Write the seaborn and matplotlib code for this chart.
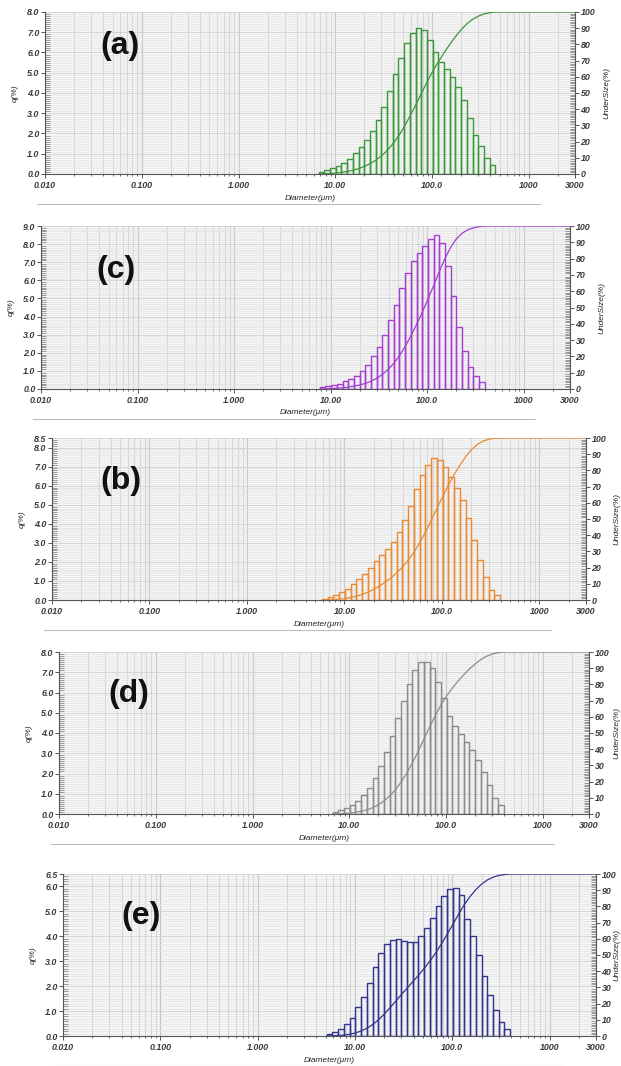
"""
Particle size distributions (q% histogram + cumulative undersize) - 5 panels
"""
import numpy as np
import pandas as pd
import matplotlib
matplotlib.use('Agg')
import matplotlib.pyplot as plt
import seaborn as sns
from matplotlib.lines import Line2D
from matplotlib.ticker import FixedLocator, MultipleLocator, NullFormatter, FixedFormatter

# analyser channel edges (um) in the occupied range
channels = [5.122, 5.867, 6.720, 7.697, 8.816, 10.097, 11.565, 13.246, 15.172,
            17.377, 19.904, 22.797, 26.111, 29.907, 34.255, 39.234, 44.938,
            51.471, 58.953, 67.523, 77.339, 88.583, 101.460, 116.210, 133.103,
            152.453, 174.616, 200.000, 229.075, 262.376, 300.518, 344.206,
            394.244, 451.556, 517.200]

# q(%) per channel
q_a = [0.12, 0.20, 0.28, 0.41, 0.56, 0.74, 1.02, 1.33, 1.70, 2.12, 2.67, 3.33,
       4.10, 4.92, 5.71, 6.45, 6.98, 7.22, 7.11, 6.62, 6.04, 5.55, 5.17, 4.81,
       4.31, 3.65, 2.78, 1.93, 1.38, 0.77, 0.44]
q_c = [0.09, 0.15, 0.20, 0.29, 0.42, 0.55, 0.74, 0.97, 1.34, 1.80, 2.32, 2.98,
       3.79, 4.65, 5.57, 6.40, 7.04, 7.50, 7.90, 8.29, 8.51, 8.05, 6.80, 5.11,
       3.42, 2.08, 1.20, 0.72, 0.40]
q_b = [0.07, 0.17, 0.28, 0.42, 0.60, 0.82, 1.08, 1.38, 1.70, 2.03, 2.36, 2.68,
       3.05, 3.55, 4.18, 4.95, 5.80, 6.55, 7.10, 7.45, 7.36, 6.96, 6.45, 5.87,
       5.26, 4.30, 3.16, 2.08, 1.19, 0.54, 0.24]
q_d = [0.10, 0.18, 0.28, 0.43, 0.64, 0.94, 1.30, 1.79, 2.39, 3.08, 3.85, 4.76,
       5.58, 6.40, 7.11, 7.49, 7.52, 7.19, 6.53, 5.71, 4.84, 4.36, 3.93, 3.57,
       3.16, 2.67, 2.06, 1.43, 0.77, 0.44]
q_e = [0.09, 0.17, 0.28, 0.47, 0.74, 1.18, 1.55, 2.14, 2.75, 3.32, 3.68, 3.85,
       3.88, 3.82, 3.77, 3.78, 4.02, 4.35, 4.75, 5.21, 5.63, 5.88, 5.92, 5.66,
       4.68, 4.00, 3.24, 2.41, 1.63, 1.03, 0.56, 0.29]

# first occupied channel of every sample
start_a, start_c, start_b, start_d, start_e = 6.720, 7.697, 5.867, 6.720, 5.122

panel_labels = ['(a)', '(c)', '(b)', '(d)', '(e)']
ymax_list = [8.0, 9.0, 8.5, 8.0, 6.5]
colors = ['#3a973a', '#a43ed2', '#ea8a30', '#8c8c8c', '#32338c']
x_ticks = [0.01, 0.1, 1, 10, 100, 1000, 3000]
x_ticklabels = ['0.010', '0.100', '1.000', '10.00', '100.0', '1000', '3000']
under_ticks = list(range(0, 101, 10))

W, H = 621, 1066
# axes boxes in pixels: left, right, top, bottom
boxes = [(45, 575, 12, 174), (41, 570, 226, 389), (52, 586, 438, 600),
         (59, 589, 652, 814), (63, 596, 874, 1036)]
letter_pos = [(120, 46), (116, 270), (121, 481), (129, 694), (141, 916)]

sns.set_theme(style='white')
plt.rcParams['font.family'] = ['Liberation Sans', 'DejaVu Sans']

fig = plt.figure(figsize=(W / 100, H / 100), dpi=100)
fig.patch.set_facecolor('white')


def fx(x): return x / W
def fy(y): return 1 - y / H


tick_font = dict(fontsize=6.4, fontstyle='italic', fontweight='bold', color='#3a3a3a')
lab_font = dict(fontsize=6, fontstyle='italic', color='#222222')

data = [(q_a, start_a), (q_c, start_c), (q_b, start_b), (q_d, start_d), (q_e, start_e)]

for i, ((q, start), (L, R, T, B)) in enumerate(zip(data, boxes)):
    col = colors[i]
    ymax = ymax_list[i]
    i0 = channels.index(start)
    edges = np.array(channels[i0:i0 + len(q) + 1])
    centers = np.sqrt(edges[:-1] * edges[1:])
    df = pd.DataFrame({'d': centers, 'q': q})
    undersize = np.concatenate([[0], np.cumsum(q) / np.sum(q) * 100, [100]])
    cum = pd.DataFrame({'d': np.concatenate([edges, [x_ticks[-1]]]), 'u': undersize})

    ax = fig.add_axes([fx(L), fy(B), fx(R - L), (B - T) / H])
    ax.set_facecolor('#f5f5f5')
    sns.histplot(data=df, x='d', weights='q', bins=list(np.log10(edges)),
                 log_scale=True, element='bars', fill=False, color=col,
                 linewidth=1.0, ax=ax)
    ax.set_xlim(0.01, 3000)
    ax.set_ylim(0, ymax)

    # grid
    ax.xaxis.set_major_locator(FixedLocator(x_ticks))
    ax.xaxis.set_major_formatter(FixedFormatter(x_ticklabels))
    minors = [m * 10.0 ** e for e in range(-2, 4) for m in range(2, 10)
              if 0.01 < m * 10.0 ** e < 3000]
    ax.xaxis.set_minor_locator(FixedLocator(minors))
    ax.xaxis.set_minor_formatter(NullFormatter())
    yt = list(np.arange(0, int(ymax) + 1, 1.0))
    if ymax not in yt:
        yt.append(ymax)
    ax.yaxis.set_major_locator(FixedLocator(yt))
    ax.yaxis.set_major_formatter(FixedFormatter([f'{v:.1f}' for v in yt]))
    ax.yaxis.set_minor_locator(MultipleLocator(0.1))
    ax.grid(which='minor', axis='y', color='#e4e4e4', lw=0.5)
    ax.grid(which='major', axis='y', color='#d4d4d4', lw=0.7)
    ax.grid(which='minor', axis='x', color='#d0d0d0', lw=0.7)
    ax.grid(which='major', axis='x', color='#bdbdbd', lw=0.8)
    ax.set_axisbelow(True)

    ax.tick_params(axis='y', which='major', direction='out', length=3, width=0.7,
                   color='#555555', pad=1, left=True)
    ax.tick_params(axis='y', which='minor', direction='in', length=3.5, width=0.6,
                   color='#8a8a8a', left=True)
    ax.tick_params(axis='x', which='major', direction='out', length=3, width=0.7,
                   color='#555555', pad=2, bottom=True)
    ax.tick_params(axis='x', which='minor', direction='out', length=1.5, width=0.7,
                   color='#666666', bottom=True)
    for t in ax.get_xticklabels() + ax.get_yticklabels():
        t.set(**tick_font)
    ax.set_xlabel('')
    ax.set_ylabel('')
    ax.spines['top'].set_visible(False)
    ax.spines['right'].set_visible(False)
    for s in ['left', 'bottom']:
        ax.spines[s].set_color('#555555')
        ax.spines[s].set_linewidth(0.8)

    # cumulative undersize on the right axis
    ax2 = ax.twinx()
    sns.lineplot(data=cum, x='d', y='u', color=col, lw=0.9, ax=ax2, sort=True)
    ax2.set_xlim(0.01, 3000)
    ax2.set_ylim(0, 100)
    ax2.yaxis.set_major_locator(FixedLocator(under_ticks))
    ax2.yaxis.set_major_formatter(FixedFormatter([str(v) for v in under_ticks]))
    ax2.yaxis.set_minor_locator(MultipleLocator(1))
    ax2.tick_params(axis='y', which='major', direction='out', length=3, width=0.7,
                    color='#555555', pad=1, right=True)
    ax2.tick_params(axis='y', which='minor', direction='in', length=3.5, width=0.6,
                    color='#8a8a8a', right=True)
    for t in ax2.get_yticklabels():
        t.set(**tick_font)
    ax2.set_xlabel('')
    ax2.set_ylabel('')
    for s in ['top', 'left', 'bottom']:
        ax2.spines[s].set_visible(False)
    ax2.spines['right'].set_color('#555555')
    ax2.spines['right'].set_linewidth(0.8)

    # axis titles
    fig.text(fx(L - 30), fy((T + B) / 2), 'q(%)', rotation=90, ha='center',
             va='center', **lab_font)
    fig.text(fx(min(R + 32, 617)), fy((T + B) / 2), 'UnderSize(%)', rotation=90,
             ha='center', va='center', **lab_font)
    fig.text(fx((L + R) / 2), fy(B + 24), 'Diameter(μm)', ha='center',
             va='center', **lab_font)
    fig.add_artist(Line2D([fx(L - 8), fx(R - 35)], [fy(B + 30), fy(B + 30)],
                          color='#bdbdbd', lw=0.8))
    lx, ly = letter_pos[i]
    fig.text(fx(lx), fy(ly), panel_labels[i], ha='center', va='center',
             fontsize=23, fontweight='bold', color='#111111')

fig.savefig('out.png', dpi=100)
